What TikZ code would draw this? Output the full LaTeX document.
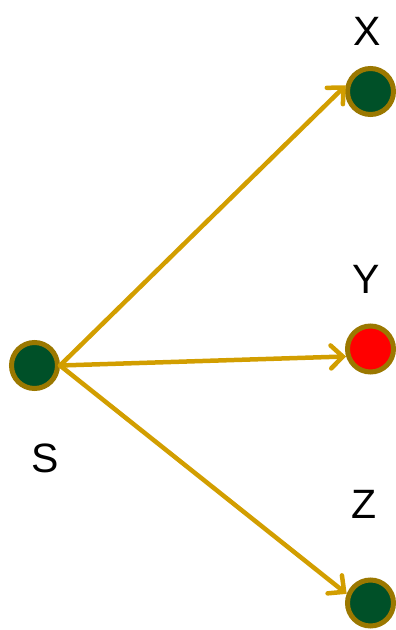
\documentclass[tikz,border=0pt]{standalone}
\usepackage{fontspec}
\setmainfont{Liberation Sans}
\usetikzlibrary{arrows.meta}
\definecolor{nodegreen}{RGB}{0,80,40}
\definecolor{ringgold}{RGB}{155,120,0}
\definecolor{arrowgold}{RGB}{210,158,0}
\definecolor{nodered}{RGB}{255,0,0}
\begin{document}
\begin{tikzpicture}[x=1pt,y=-1pt,
  vertex/.style={circle,draw=ringgold,line width=5pt,minimum size=46pt,inner sep=0pt,fill=nodegreen},
  lbl/.style={font=\fontsize{41}{41}\selectfont,anchor=base,inner sep=0pt},
  edge/.style={draw=arrowgold,line width=4.5pt,line cap=round,-{Straight Barb[length=12pt,width=23pt,line cap=round]}}]
\useasboundingbox (0,0) rectangle (396,630);
\node[vertex] (S) at (34.5,365.5) {};
\node[vertex] (X) at (370.5,91.5) {};
\node[vertex,fill=nodered] (Y) at (370.5,349) {};
\node[vertex] (Z) at (370.5,603) {};
\node[lbl] (lS) at (45,472) {S};
\node[lbl] (lX) at (367,45) {X};
\node[lbl] (lY) at (366.5,293) {Y};
\node[lbl] (lZ) at (364.5,518) {Z};
\draw[edge] (S.east) -- (X.166);
\draw[edge] (S.east) -- (Y.197);
\draw[edge] (S.east) -- (Z.159);
\end{tikzpicture}
\end{document}
